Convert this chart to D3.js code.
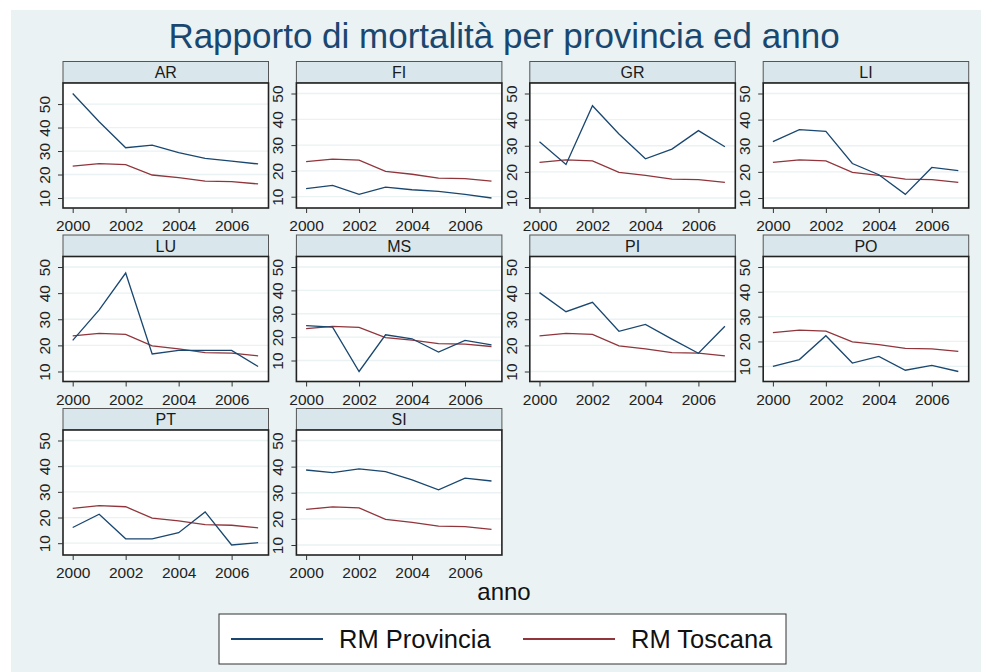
<!DOCTYPE html>
<html>
<head>
<meta charset="utf-8">
<title>Rapporto di mortalità</title>
<script src="https://cdn.jsdelivr.net/npm/d3@7/dist/d3.min.js"></script>
<style>
	body { margin: 0; background: #ffffff; }
	text { font-family: "Liberation Sans", Arial, sans-serif; }
</style>
</head>
<body>
<div id="chart"></div>
<script>

	// data
	var years = [2000, 2001, 2002, 2003, 2004, 2005, 2006, 2007];
	var provinces = ["AR", "FI", "GR", "LI", "LU", "MS", "PI", "PO", "PT", "SI"];
	var yTicks = [10, 20, 30, 40, 50];
	var xTicks = [2000, 2002, 2004, 2006];

	var rmToscana = [23.6, 24.6, 24.2, 19.8, 18.7, 17.2, 17.0, 16.0];

	var rmAR = [54.5, 42.5, 31.4, 32.5, 29.3, 26.9, 25.7, 24.5];
	var rmFI = [13.1, 14.4, 10.9, 13.7, 12.7, 12.1, 10.9, 9.5];
	var rmGR = [31.5, 22.8, 45.3, 34.5, 25.0, 28.7, 35.8, 29.6];
	var rmLI = [31.6, 36.2, 35.5, 23.2, 18.9, 11.4, 21.7, 20.5];
	var rmLU = [21.9, 33.6, 47.7, 16.7, 18.1, 18.1, 18.1, 11.9];
	var rmMS = [24.9, 24.3, 5.3, 21.0, 19.3, 13.6, 18.6, 16.7];
	var rmPI = [40.2, 32.9, 36.5, 25.4, 28.0, 22.4, 17.0, 27.3];
	var rmPO = [10.0, 12.7, 22.3, 11.3, 14.0, 8.4, 10.4, 7.9];
	var rmPT = [16.1, 21.3, 11.7, 11.7, 14.1, 22.2, 9.3, 10.2];
	var rmSI = [38.7, 37.7, 39.1, 38.1, 34.9, 31.1, 35.6, 34.5];

	var rmProvincia = [rmAR, rmFI, rmGR, rmLI, rmLU, rmMS, rmPI, rmPO, rmPT, rmSI];

	var legendLabels = ["RM Provincia", "RM Toscana"];

	//display variables
	var width = 986;
	var height = 672;
	var navy = "#1A476F";
	var maroon = "#90353B";

	var colLeft0 = 63, colPitch = 233.4, plotW = 205.5;
	var rowTop0 = 61.5, rowPitch = 173.5, stripH = 21.5, plotH = 125;

	var svg = d3.select("#chart")
		.append("svg")
		.attr("width", width)
		.attr("height", height);

	//graph region background
	svg.append("rect")
		.attr("x", 11).attr("y", 10)
		.attr("width", 970).attr("height", height - 10)
		.attr("fill", "#EAF2F3");

	//title
	svg.append("text")
		.attr("x", 504).attr("y", 48)
		.attr("text-anchor", "middle")
		.attr("font-size", 35)
		.attr("fill", navy)
		.text("Rapporto di mortalità per provincia ed anno");

	var line = d3.line();

	provinces.forEach(function(prov, i) {
		var col = i % 4, row = Math.floor(i / 4);
		var left = colLeft0 + col * colPitch;
		var top = rowTop0 + row * rowPitch;
		var pTop = top + stripH;
		var pBottom = pTop + plotH;
		var values = rmProvincia[i];

		var all = values.concat(rmToscana);
		var x = d3.scaleLinear().domain([2000, 2007]).range([left + 9.7, left + plotW - 10.4]);
		var y = d3.scaleLinear()
			.domain([Math.min(10, d3.min(all)), Math.max(50, d3.max(all))])
			.range([pBottom - 10, pTop + 10.5]);

		var g = svg.append("g");

		//strip
		g.append("rect")
			.attr("x", left).attr("y", top)
			.attr("width", plotW).attr("height", stripH)
			.attr("fill", "#D9E6EB")
			.attr("stroke", "#555").attr("stroke-width", 1);
		g.append("text")
			.attr("x", left + plotW / 2).attr("y", top + 16.5)
			.attr("text-anchor", "middle")
			.attr("font-size", 16)
			.attr("fill", "#1a1a1a")
			.text(prov);

		//plot region
		g.append("rect")
			.attr("x", left).attr("y", pTop)
			.attr("width", plotW).attr("height", plotH)
			.attr("fill", "#ffffff");

		//gridlines
		g.selectAll(".grid")
			.data(yTicks)
			.enter()
			.append("line")
			.attr("x1", left).attr("x2", left + plotW)
			.attr("y1", function(d){ return y(d); })
			.attr("y2", function(d){ return y(d); })
			.attr("stroke", "#EAF2F3").attr("stroke-width", 1.3);

		//lines
		g.append("path")
			.attr("d", line(years.map(function(yr, k){ return [x(yr), y(rmToscana[k])]; })))
			.attr("fill", "none").attr("stroke", maroon).attr("stroke-width", 1.3);
		g.append("path")
			.attr("d", line(years.map(function(yr, k){ return [x(yr), y(values[k])]; })))
			.attr("fill", "none").attr("stroke", navy).attr("stroke-width", 1.3);

		//frame
		g.append("rect")
			.attr("x", left).attr("y", pTop)
			.attr("width", plotW).attr("height", plotH)
			.attr("fill", "none")
			.attr("stroke", "#222").attr("stroke-width", 1.6);

		//y axis
		var yAxis = d3.axisLeft(y).tickValues(yTicks).tickSize(5).tickPadding(0).tickFormat(d3.format("d"));
		var ya = g.append("g").attr("transform", "translate(" + left + ",0)").call(yAxis);
		ya.select(".domain").remove();
		ya.selectAll(".tick line").attr("stroke", "#333");
		ya.selectAll(".tick text")
			.attr("x", null).attr("dy", null)
			.attr("transform", "translate(-13,0) rotate(-90)")
			.attr("text-anchor", "middle")
			.attr("font-size", 15.5)
			.attr("font-family", null)
			.attr("fill", "#222");

		//x axis
		var xAxis = d3.axisBottom(x).tickValues(xTicks).tickSize(5).tickPadding(7).tickFormat(d3.format("d"));
		var xa = g.append("g").attr("transform", "translate(0," + pBottom + ")").call(xAxis);
		xa.select(".domain").remove();
		xa.selectAll(".tick line").attr("stroke", "#333");
		xa.selectAll(".tick text")
			.attr("font-size", 15.5)
			.attr("font-family", null)
			.attr("fill", "#222");
	});

	//x axis title
	svg.append("text")
		.attr("x", 504).attr("y", 600)
		.attr("text-anchor", "middle")
		.attr("font-size", 24)
		.attr("fill", "#111")
		.text("anno");

	//legend
	var lg = svg.append("g");
	lg.append("rect")
		.attr("x", 219).attr("y", 614)
		.attr("width", 567).attr("height", 50)
		.attr("fill", "#ffffff")
		.attr("stroke", "#333").attr("stroke-width", 1);

	var legendX = [231, 523];
	var legendColors = [navy, maroon];
	legendLabels.forEach(function(lbl, i) {
		lg.append("line")
			.attr("x1", legendX[i]).attr("x2", legendX[i] + 92)
			.attr("y1", 639).attr("y2", 639)
			.attr("stroke", legendColors[i]).attr("stroke-width", 2);
		lg.append("text")
			.attr("x", legendX[i] + 108).attr("y", 648)
			.attr("font-size", 25.5)
			.attr("fill", "#111")
			.text(lbl);
	});

</script>
</body>
</html>
